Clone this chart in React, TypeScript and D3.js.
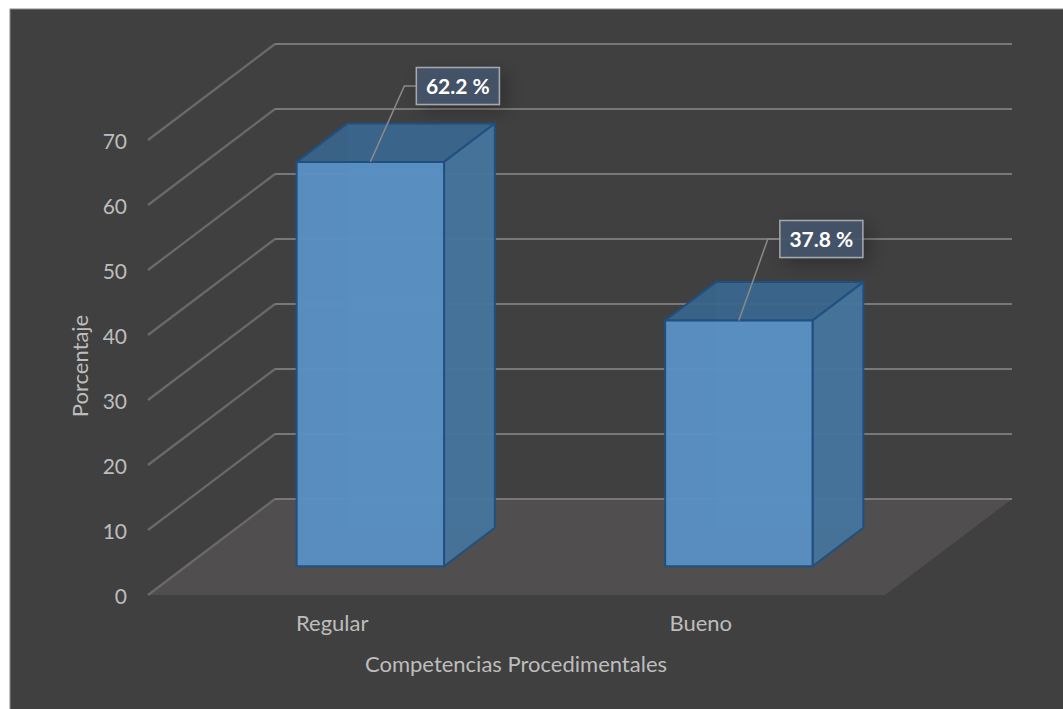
import React from "react";
import * as d3 from "d3";

const categories = ["Regular", "Bueno"];
const percentages = [62.2, 37.8];
const yTicks = [0, 10, 20, 30, 40, 50, 60, 70];
const yAxisTitle = "Porcentaje";
const xAxisTitle = "Competencias Procedimentales";

const FONT = "Lato, 'Open Sans', sans-serif";
const WIDTH = 1063;
const HEIGHT = 709;
const TEXT_COLOR = "#bdbdbd";

// Oblique projection: the floor recedes by this offset from front to back.
const DEPTH_DX = 127;
const DEPTH_DY = -96;
const BAR_NEAR = 0.3;
const BAR_FAR = 0.7;

const x = d3.scaleBand<string>().domain(categories).range([148, 885]).paddingInner(0.6).paddingOuter(0.3);
const y = d3.scaleLinear().domain([0, 70]).range([595, 140]);

const project = (px: number, value: number, depth: number): [number, number] => [
  px + DEPTH_DX * depth,
  y(value) + DEPTH_DY * depth,
];
const path = (pts: [number, number][]) => d3.line()(pts) + "Z";

// Callout placement relative to the top-front edge of each bar.
const CALLOUT = { elbowDx: 34, elbowY: [86, 239], boxW: 83, boxH: 37, stub: 12 };

export default function App() {
  const x0 = x.range()[0];
  const x1 = x.range()[1];
  return (
    <svg
      width={WIDTH}
      height={HEIGHT}
      viewBox={`0 0 ${WIDTH} ${HEIGHT}`}
      style={{ position: "fixed", left: 0, top: 0, background: "#fff", fontFamily: FONT }}
    >
      <defs>
        <filter id="calloutShadow" x="-40%" y="-60%" width="190%" height="240%">
          <feDropShadow dx="6" dy="6" stdDeviation="9" floodColor="#000" floodOpacity="0.28" />
        </filter>
      </defs>
      <rect x={10} y={9} width={WIDTH} height={HEIGHT} fill="#404040" stroke="#8a8a8a" strokeWidth={1} />

      {/* Floor */}
      <path
        d={path([project(x0, 0, 0), project(x0, 0, 1), project(x1, 0, 1), project(x1, 0, 0)])}
        fill="#514e4f"
      />

      {/* Gridlines running along the side wall and the back wall */}
      {yTicks.map((t) => (
        <g key={t} fill="none" strokeWidth={2.2}>
          <line
            x1={project(x0, t, 0)[0]}
            y1={project(x0, t, 0)[1]}
            x2={project(x0, t, 1)[0]}
            y2={project(x0, t, 1)[1]}
            stroke="#6a6a6a"
          />
          <line
            x1={project(x0, t, 1)[0]}
            y1={project(x0, t, 1)[1]}
            x2={project(x1, t, 1)[0]}
            y2={project(x1, t, 1)[1]}
            stroke="#787878"
          />
        </g>
      ))}

      {/* Value axis labels */}
      {yTicks.map((t) => (
        <text key={t} x={127} y={y(t) + 1} dy="0.36em" textAnchor="end" fontSize={21} fill={TEXT_COLOR}>
          {t}
        </text>
      ))}

      {/* Bars */}
      {categories.map((c, i) => {
        const l = x(c) as number;
        const r = l + x.bandwidth();
        const v = percentages[i];
        const edge = { stroke: "#1f5080", strokeWidth: 2, strokeLinejoin: "round" as const };
        return (
          <g key={c}>
            <path
              d={path([project(l, 0, BAR_FAR), project(r, 0, BAR_FAR), project(r, v, BAR_FAR), project(l, v, BAR_FAR)])}
              fill="#5b9bd5"
              fillOpacity={0.25}
            />
            <path
              d={path([project(l, v, BAR_NEAR), project(r, v, BAR_NEAR), project(r, v, BAR_FAR), project(l, v, BAR_FAR)])}
              fill="#39658c"
              fillOpacity={0.92}
              {...edge}
            />
            <path
              d={path([project(r, 0, BAR_NEAR), project(r, 0, BAR_FAR), project(r, v, BAR_FAR), project(r, v, BAR_NEAR)])}
              fill="#46749c"
              fillOpacity={0.95}
              {...edge}
            />
            <path
              d={path([project(l, 0, BAR_NEAR), project(r, 0, BAR_NEAR), project(r, v, BAR_NEAR), project(l, v, BAR_NEAR)])}
              fill="#5a8fc4"
              fillOpacity={0.97}
              {...edge}
            />
          </g>
        );
      })}

      {/* Category labels */}
      {categories.map((c) => (
        <text
          key={c}
          x={(x(c) as number) + x.bandwidth() / 2}
          y={631}
          textAnchor="middle"
          fontSize={22}
          fill={TEXT_COLOR}
        >
          {c}
        </text>
      ))}

      {/* Callouts */}
      {categories.map((c, i) => {
        const v = percentages[i];
        const [fx, fy] = project((x(c) as number) + x.bandwidth() / 2, v, BAR_NEAR);
        const ex = fx + CALLOUT.elbowDx - i * 5;
        const ey = CALLOUT.elbowY[i];
        const bx = ex + CALLOUT.stub;
        return (
          <g key={c}>
            <polyline
              points={`${fx},${fy} ${ex},${ey} ${bx},${ey}`}
              fill="none"
              stroke="#8a8a8a"
              strokeWidth={1.5}
            />
            <rect
              x={bx}
              y={ey - CALLOUT.boxH / 2}
              width={CALLOUT.boxW}
              height={CALLOUT.boxH}
              fill="#44546a"
              fillOpacity={0.92}
              stroke="#a5a8ad"
              strokeWidth={1.5}
              filter="url(#calloutShadow)"
            />
            <text
              x={bx + CALLOUT.boxW / 2}
              y={ey}
              dy="0.36em"
              textAnchor="middle"
              fontSize={21}
              fontWeight={700}
              fill="#ffffff"
            >
              {`${v} %`}
            </text>
          </g>
        );
      })}

      {/* Axis titles */}
      <text
        transform={`translate(88,${366}) rotate(-90)`}
        textAnchor="middle"
        fontSize={22}
        fill={TEXT_COLOR}
      >
        {yAxisTitle}
      </text>
      <text x={516} y={672} textAnchor="middle" fontSize={22} fill={TEXT_COLOR}>
        {xAxisTitle}
      </text>
    </svg>
  );
}
